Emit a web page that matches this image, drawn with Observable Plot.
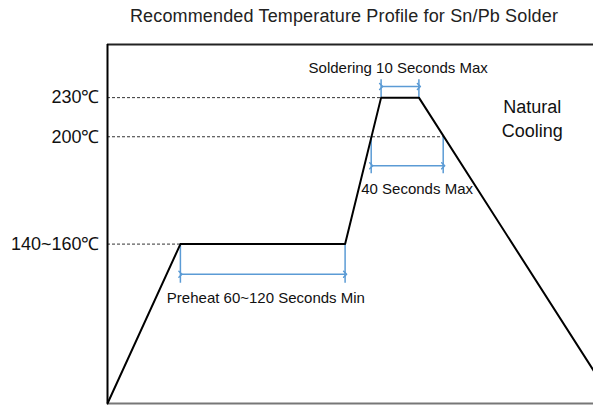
<!DOCTYPE html>
<html>
<head>
<meta charset="utf-8">
<script src="https://cdn.jsdelivr.net/npm/d3@7"></script>
<script src="https://cdn.jsdelivr.net/npm/@observablehq/plot@0.6"></script>
<style>
  body { margin: 0; background: #fff; font-family: "Liberation Sans", Arial, sans-serif; }
  #wrap { position: relative; width: 593px; height: 405px; overflow: hidden; }
  #chart svg { display: block; }
  #title { position: absolute; top: 6px; left: 0; width: 688px; text-align: center; font-size: 18px; line-height: 21px; color: #222; letter-spacing: 0.15px; }
</style>
</head>
<body>
<div id="wrap">
  <div id="chart"></div>
  <div id="title">Recommended Temperature Profile for Sn/Pb Solder</div>
</div>
<script>
// Schematic soldering profile: time (s) and a relative heat level (0 = ambient, 100 = top of chart)
const profileTime = [0, 40.5, 132, 152, 173, 270];
const profileLevel = [0, 44.4, 44.4, 85.2, 85.2, 9.2];

// Y tick positions (levels) and their temperature labels
const tickLevels = [44.4, 74.3, 85.2];
const tickLabels = ["140~160℃", "200℃", "230℃"];

// Dashed reference levels and the time where each meets the profile
const refLevel = [85.2, 74.3, 44.4];
const refTime = [152, 186.5, 40.5];

// Interval annotations
const spanLabels = ["Preheat 60~120 Seconds Min", "Soldering 10 Seconds Max", "40 Seconds Max"];
const spanStart = [40.5, 152, 146.5];
const spanEnd = [132, 173, 186.5];
const spanBase = [44.4, 85.2, 74.3];
const spanTip = [33.5, 90.2, 64.0];
const spanArrowLevel = [36.0, 88.3, 66.2];
const spanTextTime = [88, 161.5, 172];
const spanTextLevel = [29.3, 93.3, 59.8];

const coolingLabel = "Natural\nCooling";
const coolingTime = 236;
const coolingLevel = 79.7;

const blue = "#5b9bd5";

const profile = profileTime.map((t, i) => ({t, v: profileLevel[i]}));
const refs = refLevel.map((v, i) => ({v, t: refTime[i]}));
const spanTicks = spanLabels.flatMap((_, i) => [
  {t: spanStart[i], y1: spanBase[i], y2: spanTip[i]},
  {t: spanEnd[i], y1: spanBase[i], y2: spanTip[i]}
]);
const spanArrows = spanLabels.map((_, i) => ({x1: spanStart[i], x2: spanEnd[i], y: spanArrowLevel[i]}));
const spanTexts = spanLabels.map((text, i) => ({text, t: spanTextTime[i], v: spanTextLevel[i]}));

const chart = Plot.plot({
  width: 593,
  height: 405,
  marginLeft: 107,
  marginRight: 0,
  marginTop: 44,
  marginBottom: 2,
  style: {fontFamily: "'Liberation Sans', Arial, sans-serif", background: "transparent", overflow: "visible"},
  x: {domain: [0, 270], axis: null},
  y: {domain: [0, 100], axis: null},
  marks: [
    Plot.axisY({ticks: tickLevels, tickFormat: d => tickLabels[tickLevels.indexOf(d)], tickSize: 0, tickPadding: 8, fontSize: 18, fill: "#111", label: null}),
    Plot.ruleY(refs, {y: "v", x1: 0, x2: "t", stroke: "#333", strokeWidth: 1, strokeDasharray: "3,2"}),
    Plot.ruleY([100], {stroke: "#222", strokeWidth: 2}),
    Plot.ruleY([0], {stroke: "#777", strokeWidth: 2}),
    Plot.ruleX([0], {stroke: "#000", strokeWidth: 2}),
    Plot.ruleX(spanTicks, {x: "t", y1: "y1", y2: "y2", stroke: blue, strokeWidth: 1.5}),
    Plot.link(spanArrows, {x1: "x1", x2: "x2", y1: "y", y2: "y", stroke: blue, strokeWidth: 1.5, markerStart: "arrow", markerEnd: "arrow"}),
    Plot.line(profile, {x: "t", y: "v", stroke: "#000", strokeWidth: 2}),
    Plot.text(spanTexts, {x: "t", y: "v", text: "text", fontSize: 15, fill: "#111"}),
    Plot.text([coolingLabel], {x: coolingTime, y: coolingLevel, text: d => d, fontSize: 18, lineHeight: 1.3, fill: "#111"})
  ]
});
document.getElementById("chart").appendChild(chart);
</script>
</body>
</html>
